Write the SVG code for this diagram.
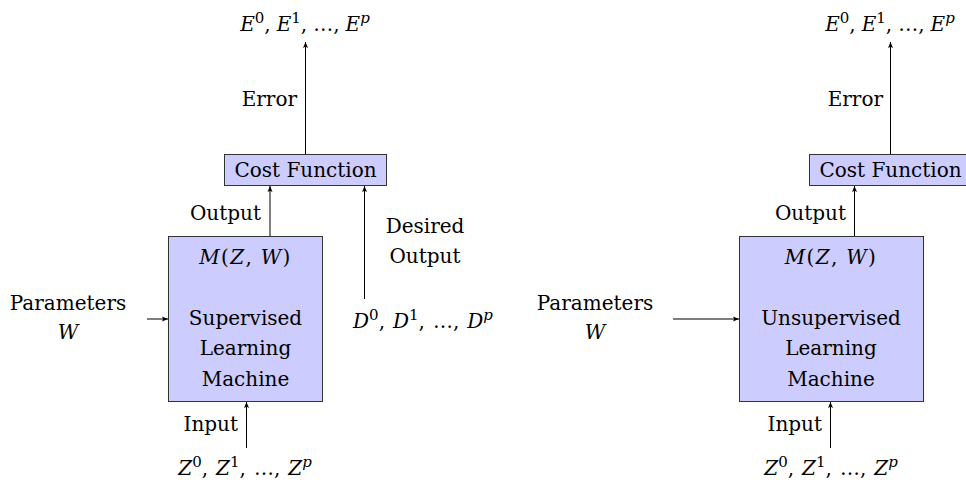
<svg xmlns="http://www.w3.org/2000/svg" width="966" height="483" viewBox="0 0 966 483">
<style>
  text { font-family: "DejaVu Serif", "Liberation Serif", serif; font-size: 20px; fill: #000; }
  .m { text-anchor: middle; }
  .e { text-anchor: end; }
  .i { font-style: italic; }
  .sup { font-size: 15px; }
  .mzw { letter-spacing: 1.3px; }
  .box { fill: #ccccff; stroke: #333; stroke-width: 1; }
  .conn { stroke: #000; stroke-width: 1; fill: none; marker-end: url(#arr); }
</style>
<defs>
  <marker id="arr" markerUnits="userSpaceOnUse" markerWidth="8" markerHeight="8" refX="6" refY="4" orient="auto">
    <path d="M0,1.5 L6,4 L0,6.5 L1.2,4 z" fill="#000"/>
  </marker>
</defs>
<rect width="966" height="483" fill="#fff"/>

<g id="connectors">
  <line class="conn" x1="305.5" y1="154" x2="305.5" y2="42"/>
  <line class="conn" x1="270" y1="236" x2="270" y2="186"/>
  <line class="conn" x1="364.5" y1="299" x2="364.5" y2="186"/>
  <line class="conn" x1="147" y1="319" x2="168" y2="319"/>
  <line class="conn" x1="246.5" y1="448" x2="246.5" y2="402"/>
  <line class="conn" x1="890.5" y1="154" x2="890.5" y2="42"/>
  <line class="conn" x1="854.5" y1="236" x2="854.5" y2="186"/>
  <line class="conn" x1="673" y1="319" x2="739" y2="319"/>
  <line class="conn" x1="830.5" y1="448" x2="830.5" y2="402"/>
</g>

<!-- Left: supervised -->
<g id="cost1">
  <rect class="box" x="224.5" y="154.5" width="162" height="31"/>
  <text class="m" x="305.5" y="177">Cost Function</text>
</g>
<g id="machine1">
  <rect class="box" x="168.5" y="236.5" width="154" height="165"/>
  <text class="m mzw" x="245.5" y="264"><tspan class="i">M</tspan>(<tspan class="i">Z</tspan>, <tspan class="i">W</tspan>)</text>
  <text class="m" x="245.5" y="325">Supervised</text>
  <text class="m" x="245.5" y="355">Learning</text>
  <text class="m" x="245.5" y="386">Machine</text>
</g>
<g id="errors1">
  <text class="m" x="305" y="31"><tspan class="i">E</tspan><tspan class="sup" dy="-8">0</tspan><tspan dy="8">,</tspan><tspan class="i" dx="6">E</tspan><tspan class="sup" dy="-8">1</tspan><tspan dy="8">,</tspan><tspan dx="6">…,</tspan><tspan class="i" dx="6">E</tspan><tspan class="sup i" dy="-8">p</tspan></text>
</g>
<g id="errlabel1"><text class="e" x="297" y="106">Error</text></g>
<g id="outlabel1"><text class="e" x="261" y="220">Output</text></g>
<g id="desired1">
  <text class="m" x="425" y="233">Desired</text>
  <text class="m" x="425" y="263">Output</text>
</g>
<g id="targets1">
  <text class="m" x="423" y="328"><tspan class="i">D</tspan><tspan class="sup" dy="-8">0</tspan><tspan dy="8">,</tspan><tspan class="i" dx="8">D</tspan><tspan class="sup" dy="-8">1</tspan><tspan dy="8">,</tspan><tspan dx="8">…,</tspan><tspan class="i" dx="8">D</tspan><tspan class="sup i" dy="-8">p</tspan></text>
</g>
<g id="params1">
  <text class="m" x="68" y="310">Parameters</text>
  <text class="m i" x="68" y="339">W</text>
</g>
<g id="inlabel1"><text class="e" x="238" y="431">Input</text></g>
<g id="inputs1">
  <text class="m" x="245" y="475"><tspan class="i">Z</tspan><tspan class="sup" dy="-8">0</tspan><tspan dy="8">,</tspan><tspan class="i" dx="8">Z</tspan><tspan class="sup" dy="-8">1</tspan><tspan dy="8">,</tspan><tspan dx="8">…,</tspan><tspan class="i" dx="8">Z</tspan><tspan class="sup i" dy="-8">p</tspan></text>
</g>

<!-- Right: unsupervised -->
<g id="cost2">
  <rect class="box" x="809.5" y="154.5" width="162" height="31"/>
  <text class="m" x="890.5" y="177">Cost Function</text>
</g>
<g id="machine2">
  <rect class="box" x="739.5" y="236.5" width="184" height="165"/>
  <text class="m mzw" x="831" y="264"><tspan class="i">M</tspan>(<tspan class="i">Z</tspan>, <tspan class="i">W</tspan>)</text>
  <text class="m" x="831" y="325">Unsupervised</text>
  <text class="m" x="831" y="355">Learning</text>
  <text class="m" x="831" y="386">Machine</text>
</g>
<g id="errors2">
  <text class="m" x="890" y="31"><tspan class="i">E</tspan><tspan class="sup" dy="-8">0</tspan><tspan dy="8">,</tspan><tspan class="i" dx="6">E</tspan><tspan class="sup" dy="-8">1</tspan><tspan dy="8">,</tspan><tspan dx="6">…,</tspan><tspan class="i" dx="6">E</tspan><tspan class="sup i" dy="-8">p</tspan></text>
</g>
<g id="errlabel2"><text class="e" x="883" y="106">Error</text></g>
<g id="outlabel2"><text class="e" x="846" y="220">Output</text></g>
<g id="params2">
  <text class="m" x="595" y="310">Parameters</text>
  <text class="m i" x="595" y="339">W</text>
</g>
<g id="inlabel2"><text class="e" x="822" y="431">Input</text></g>
<g id="inputs2">
  <text class="m" x="831" y="475"><tspan class="i">Z</tspan><tspan class="sup" dy="-8">0</tspan><tspan dy="8">,</tspan><tspan class="i" dx="8">Z</tspan><tspan class="sup" dy="-8">1</tspan><tspan dy="8">,</tspan><tspan dx="8">…,</tspan><tspan class="i" dx="8">Z</tspan><tspan class="sup i" dy="-8">p</tspan></text>
</g>
</svg>
